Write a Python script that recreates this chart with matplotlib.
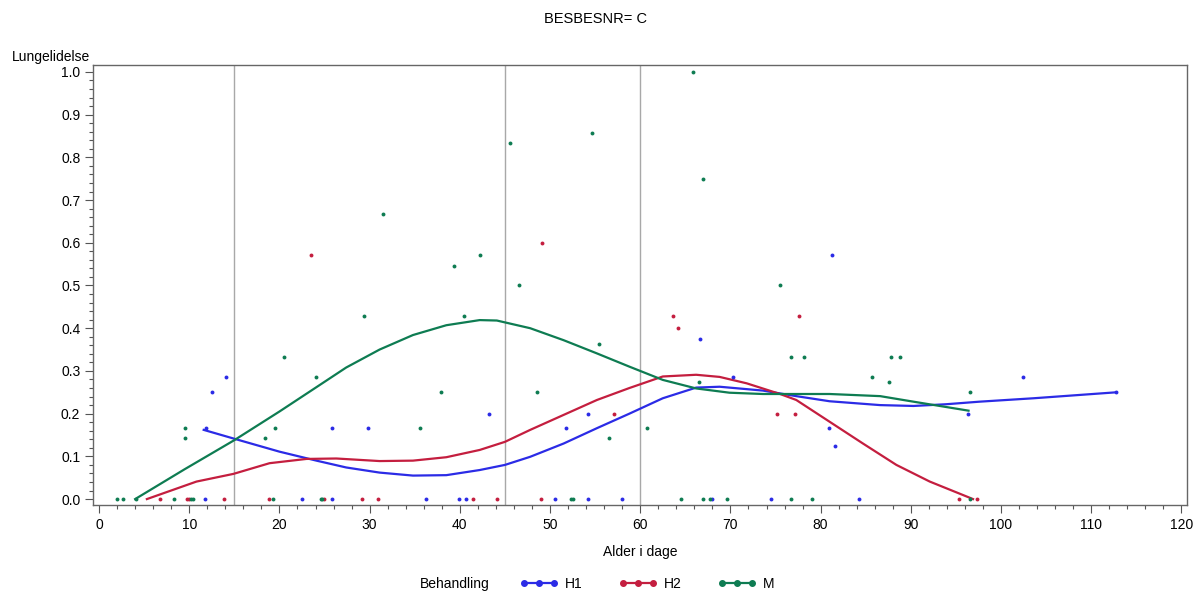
import matplotlib
matplotlib.use('Agg')
import matplotlib.pyplot as plt
from matplotlib.lines import Line2D
from matplotlib.ticker import MultipleLocator, FormatStrFormatter

plt.rcParams['font.family'] = ['Liberation Sans', 'DejaVu Sans']

BLUE = '#2b2be6'
RED = '#c41e3f'
GREEN = '#0e7c52'

# observations per treatment group
h1_x = [11.7, 11.8, 12.5, 14.1, 22.5, 25.8, 25.8, 29.8, 36.2, 39.9, 40.7, 43.2, 50.5, 51.8,
        54.2, 54.2, 58.0, 66.6, 68.0, 70.3, 74.5, 80.9, 81.3, 81.6, 84.3, 96.3, 102.4, 112.8]
h1_y = [0, 0.167, 0.25, 0.286, 0, 0, 0.167, 0.167, 0, 0, 0, 0.2, 0, 0.167,
        0, 0.2, 0, 0.375, 0, 0.286, 0, 0.167, 0.571, 0.125, 0, 0.2, 0.286, 0.25]

h2_x = [6.8, 9.7, 10.0, 13.8, 18.8, 23.5, 24.9, 29.1, 30.9, 41.5, 44.1, 49.0, 49.1, 57.1,
        63.6, 64.2, 75.2, 77.2, 77.6, 95.3, 97.3]
h2_y = [0, 0, 0, 0, 0, 0.571, 0, 0, 0, 0, 0, 0, 0.6, 0.2,
        0.429, 0.4, 0.2, 0.2, 0.429, 0, 0]

m_x = [2.0, 2.6, 4.1, 8.3, 9.5, 9.5, 10.2, 10.4, 18.4, 19.3, 19.5, 20.5, 24.1, 24.6, 24.7,
       29.4, 31.5, 35.6, 37.9, 39.4, 40.5, 42.2, 45.6, 46.6, 48.5, 52.3, 52.6, 54.6, 55.4,
       56.5, 60.7, 64.5, 65.8, 66.5, 67.0, 67.0, 67.7, 69.6, 75.5, 76.7, 76.7, 78.2, 79.0,
       85.7, 87.6, 87.8, 88.8, 96.6, 96.6]
m_y = [0, 0, 0, 0, 0.167, 0.143, 0, 0, 0.143, 0, 0.167, 0.333, 0.286, 0, 0,
       0.429, 0.667, 0.167, 0.25, 0.545, 0.429, 0.571, 0.833, 0.5, 0.25, 0, 0, 0.857, 0.364,
       0.143, 0.167, 0, 1.0, 0.273, 0.75, 0, 0, 0, 0.5, 0.333, 0, 0.333, 0,
       0.286, 0.273, 0.333, 0.333, 0.25, 0]

# smoothed curves
h1_fit_x = [11.6, 15.2, 20.0, 24.1, 27.4, 31.1, 34.8, 38.5, 42.2, 45.0, 47.8, 51.5, 55.2,
            58.8, 62.5, 66.2, 68.8, 73.6, 77.3, 81.0, 86.6, 90.3, 93.9, 97.6, 103.6, 112.8]
h1_fit_y = [0.162, 0.14, 0.111, 0.09, 0.074, 0.062, 0.055, 0.056, 0.068, 0.08, 0.099, 0.13,
            0.166, 0.2, 0.236, 0.261, 0.263, 0.254, 0.241, 0.229, 0.22, 0.218, 0.222, 0.228,
            0.236, 0.25]

h2_fit_x = [5.3, 10.8, 14.9, 18.9, 23.0, 26.3, 31.1, 34.8, 38.5, 42.2, 45.0, 47.8, 51.5,
            55.2, 58.8, 62.5, 66.2, 68.8, 71.8, 75.5, 77.3, 81.0, 84.7, 88.4, 92.1, 96.9]
h2_fit_y = [0, 0.041, 0.059, 0.084, 0.094, 0.095, 0.089, 0.09, 0.098, 0.115, 0.134, 0.162,
            0.197, 0.232, 0.26, 0.287, 0.291, 0.286, 0.271, 0.246, 0.232, 0.181, 0.13, 0.08,
            0.041, 0]

m_fit_x = [4.0, 9.5, 15.0, 20.0, 24.1, 27.4, 31.1, 34.8, 38.5, 42.2, 44.1, 47.8, 51.5,
           55.2, 58.8, 62.5, 66.2, 69.9, 73.6, 81.0, 86.6, 90.3, 96.4]
m_fit_y = [0, 0.07, 0.138, 0.205, 0.262, 0.308, 0.35, 0.384, 0.407, 0.419, 0.418, 0.4, 0.372,
           0.341, 0.31, 0.279, 0.259, 0.249, 0.246, 0.246, 0.241, 0.228, 0.207]

ref_lines = [15, 45, 60]

fig = plt.figure(figsize=(12, 5.97), dpi=100)
ax = fig.add_axes([0.0773, 0.154, 0.9117, 0.737])

for x in ref_lines:
    ax.axvline(x, color='#a8a8a8', lw=1, zorder=1)

groups = [
    ('H1', BLUE, h1_x, h1_y, h1_fit_x, h1_fit_y),
    ('H2', RED, h2_x, h2_y, h2_fit_x, h2_fit_y),
    ('M', GREEN, m_x, m_y, m_fit_x, m_fit_y),
]
for name, col, x, y, fx, fy in groups:
    ax.plot(x, y, 'o', color=col, ms=2.8, mew=0, zorder=3)
    ax.plot(fx, fy, '-', color=col, lw=1.6, zorder=2, solid_joinstyle='round')

ax.set_xlim(-0.7, 120.6)
ax.set_ylim(-0.014, 1.016)
ax.xaxis.set_major_locator(MultipleLocator(10))
ax.xaxis.set_minor_locator(MultipleLocator(2))
ax.yaxis.set_major_locator(MultipleLocator(0.1))
ax.yaxis.set_minor_locator(MultipleLocator(0.02))
ax.yaxis.set_major_formatter(FormatStrFormatter('%.1f'))
ax.tick_params(which='major', length=6, width=0.8, color='#555555', labelsize=10, pad=3)
ax.tick_params(which='minor', length=3, width=0.8, color='#555555')
ax.tick_params(top=False, right=False)
for s in ax.spines.values():
    s.set_color('#666666')
    s.set_linewidth(1)

ax.set_xlabel('Alder i dage', fontsize=10, labelpad=10)
fig.text(0.01, 0.905, 'Lungelidelse', fontsize=10, ha='left', va='center')
fig.text(0.496, 0.968, 'BESBESNR= C', fontsize=10.5, ha='center', va='center')

fig.text(0.35, 0.022, 'Behandling', fontsize=10, ha='left', va='center')
handles = [Line2D([], [], color=c, marker='o', ms=4, lw=1.6) for _, c, *_ in groups]
fig.legend(handles, [g[0] for g in groups], loc='center left', bbox_to_anchor=(0.433, 0.022),
           ncol=3, frameon=False, numpoints=3, fontsize=10, handlelength=2.8,
           columnspacing=2.6, handletextpad=0.45, borderaxespad=0, borderpad=0)

fig.savefig('out.png', dpi=100)
